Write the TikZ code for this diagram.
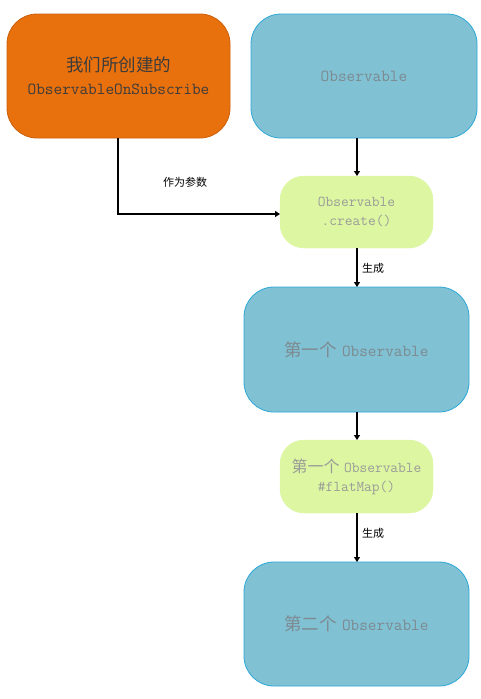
\documentclass[tikz,border=0pt]{standalone}
\usepackage{fontspec}
\newfontfamily\cjk{Noto Sans CJK SC}
\usetikzlibrary{arrows.meta}
\definecolor{orangefill}{HTML}{E8700D}
\definecolor{orangeline}{HTML}{C9600C}
\definecolor{bluefill}{HTML}{80C1D4}
\definecolor{blueline}{HTML}{2BA8D6}
\definecolor{greenfill}{HTML}{DDF6A2}
\definecolor{greyblue}{HTML}{7D8A90}
\definecolor{greygreen}{HTML}{9A9C98}
\definecolor{darktext}{HTML}{3C3C3C}
\tikzset{
  x=1pt,y=-1pt,
  bigbox/.style={rounded corners=30pt,line width=0.8pt,inner sep=0pt,align=center},
  orangebox/.style={bigbox,draw=orangeline,fill=orangefill,text=darktext},
  bluebox/.style={bigbox,draw=blueline,fill=bluefill,text=greyblue},
  greenbox/.style={rounded corners=24pt,draw=greenfill,fill=greenfill,inner sep=0pt,align=center,text=greygreen},
  flow/.style={line width=2pt,-{Triangle[width=6pt,length=5pt]}},
  lbl/.style={font=\cjk\fontsize{11}{13}\selectfont,text=black,inner sep=1pt},
}
\newcommand{\bigfont}{\fontsize{16.8}{23}\selectfont}
\newcommand{\bigcjk}{\cjk\fontsize{17.5}{23}\selectfont}
\newcommand{\smallfont}{\fontsize{15}{19}\selectfont}
\newcommand{\smallcjk}{\cjk\fontsize{16}{19}\selectfont}
\begin{document}
\begin{tikzpicture}
\useasboundingbox (0,0) rectangle (481,699);
\fill[white] (0,0) rectangle (481,699);
% boxes
\path[orangebox] (7,14) rectangle (230,138);
\node[text=darktext,align=center,font=\bigfont] (orange) at (118.5,76) {{\bigcjk 我们所创建的}\\{\ttfamily ObservableOnSubscribe}};
\path[bluebox] (251,14) rectangle (477,138);
\node[text=greyblue,font=\bigfont\ttfamily] (obs) at (364,76) {Observable};
\path[greenbox] (280,176) rectangle (433,248);
\node[text=greygreen,align=center,font=\smallfont\ttfamily] (create) at (356.5,212) {Observable\\.create()};
\path[bluebox] (244,287) rectangle (469,412);
\node[text=greyblue,font=\bigfont] (first) at (356.5,349.5) {{\bigcjk 第一个} {\ttfamily Observable}};
\path[greenbox] (280,440) rectangle (433,513);
\node[text=greygreen,align=center,font=\smallfont] (flat) at (356.5,476.5) {{\smallcjk 第一个} {\ttfamily Observable}\\{\ttfamily \#flatMap()}};
\path[bluebox] (244,562) rectangle (469,686);
\node[text=greyblue,font=\bigfont] (second) at (356.5,624) {{\bigcjk 第二个} {\ttfamily Observable}};
% anchor coordinates
\coordinate (oB) at (118,138);
\coordinate (bend) at (118,214);
\coordinate (cL) at (280,214);
\coordinate (obsB) at (357,138);
\coordinate (cT) at (357,176);
\coordinate (cB) at (357,248);
\coordinate (fT) at (357,287);
\coordinate (fB) at (357,412);
\coordinate (gT) at (357,440);
\coordinate (gB) at (357,513);
\coordinate (sT) at (357,562);
% connectors
\draw[flow] (oB) -- (bend) -- (cL);
\node[lbl] (l1) at (185,182) {作为参数};
\draw[flow] (obsB) -- (cT);
\draw[flow] (cB) -- (fT);
\node[lbl] (l2) at (373,268) {生成};
\draw[flow] (fB) -- (gT);
\draw[flow] (gB) -- (sT);
\node[lbl] (l3) at (373,533) {生成};
\end{tikzpicture}
\end{document}
